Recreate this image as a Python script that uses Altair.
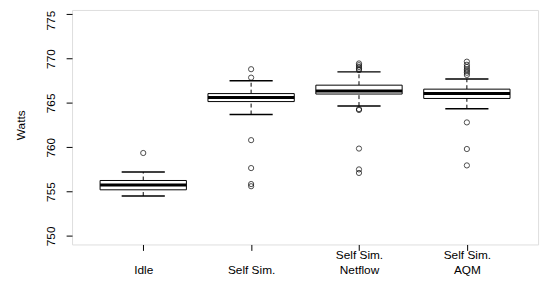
import json
import altair as alt
import pandas as pd

# ---- data ----
label_lines = [["", "Idle"], ["", "Self Sim."], ["Self Sim.", "Netflow"], ["Self Sim.", "AQM"]]
positions = [1, 2, 3, 4]
whisker_low = [754.5, 763.7, 764.65, 764.35]
q1 = [755.2, 765.15, 766.0, 765.5]
median = [755.75, 765.6, 766.35, 766.05]
q3 = [756.25, 766.05, 767.0, 766.55]
whisker_high = [757.2, 767.5, 768.5, 767.7]

outliers_idle = [759.35]
outliers_selfsim = [768.8, 767.85, 760.8, 757.65, 755.85, 755.6]
outliers_netflow = [769.45, 769.25, 769.05, 768.85, 768.7, 764.3, 764.2, 759.85, 757.5, 757.1]
outliers_aqm = [769.65, 769.3, 769.05, 768.8, 768.6, 768.4, 768.15, 762.8, 759.8, 757.95]

y_ticks = [750, 755, 760, 765, 770, 775]

box_half = 0.4
staple_half = 0.2

# ---- tables ----
stats = pd.DataFrame({
    "pos": positions,
    "lo": [p - box_half for p in positions],
    "hi": [p + box_half for p in positions],
    "slo": [p - staple_half for p in positions],
    "shi": [p + staple_half for p in positions],
    "wlow": whisker_low,
    "q1": q1,
    "med": median,
    "q3": q3,
    "whigh": whisker_high,
})

out_rows = []
for p, vals in zip(positions, [outliers_idle, outliers_selfsim, outliers_netflow, outliers_aqm]):
    for v in vals:
        out_rows.append({"pos": p, "val": v})
outs = pd.DataFrame(out_rows)

label_expr = " : ".join(
    f"datum.value == {p} ? {json.dumps(l)}" for p, l in zip(positions, label_lines)
) + " : ''"

FONT = "Liberation Sans"

xs = alt.Scale(domain=[0.34, 4.66], nice=False, zero=False)
ys = alt.Scale(domain=[749.033, 775.478], nice=False, zero=False)

x_axis = alt.Axis(
    values=positions, labelExpr=label_expr, tickSize=6, tickColor="black", tickWidth=1,
    labelPadding=8, labelBaseline="alphabetic", labelAlign="center", labelLineHeight=15,
    labelFontSize=12, labelFont=FONT, labelColor="black", domain=False, grid=False,
    labelFlush=False, labelOverlap=False, title="",
)
y_axis = alt.Axis(
    values=y_ticks, tickSize=6, tickColor="black", tickWidth=1,
    labelAngle=270, labelAlign="center", labelBaseline="alphabetic", labelPadding=12,
    labelOffset={"condition": {"test": f"datum.value == {max(y_ticks)}", "value": 6}, "value": 0},
    labelFontSize=12, labelFont=FONT, labelColor="black", domain=False, grid=False,
    labelFlush=False, labelOverlap=False,
    title="Watts", titleAngle=270, titleX=-48, titleY=116.5, titleAlign="center",
    titleBaseline="alphabetic", titleFont=FONT, titleFontSize=12, titleFontWeight="normal",
    titleColor="black",
)

base = alt.Chart(stats)

wh_hi = base.mark_rule(color="black", strokeWidth=1, strokeDash=[4, 3]).encode(
    x=alt.X("pos:Q", scale=xs, axis=x_axis),
    y=alt.Y("q3:Q", scale=ys, axis=y_axis),
    y2="whigh:Q",
)
wh_lo = base.mark_rule(color="black", strokeWidth=1, strokeDash=[4, 3]).encode(
    x=alt.X("pos:Q", scale=xs, axis=x_axis),
    y=alt.Y("wlow:Q", scale=ys, axis=y_axis),
    y2="q1:Q",
)
box = base.mark_rect(fill="white", stroke="black", strokeWidth=1).encode(
    x=alt.X("lo:Q", scale=xs, axis=x_axis),
    x2="hi:Q",
    y=alt.Y("q1:Q", scale=ys, axis=y_axis),
    y2="q3:Q",
)
med = base.mark_rule(color="black", strokeWidth=3).encode(
    x=alt.X("lo:Q", scale=xs, axis=x_axis),
    x2="hi:Q",
    y=alt.Y("med:Q", scale=ys, axis=y_axis),
)
st_hi = base.mark_rule(color="black", strokeWidth=1.5).encode(
    x=alt.X("slo:Q", scale=xs, axis=x_axis),
    x2="shi:Q",
    y=alt.Y("whigh:Q", scale=ys, axis=y_axis),
)
st_lo = base.mark_rule(color="black", strokeWidth=1.5).encode(
    x=alt.X("slo:Q", scale=xs, axis=x_axis),
    x2="shi:Q",
    y=alt.Y("wlow:Q", scale=ys, axis=y_axis),
)
pts = alt.Chart(outs).mark_point(shape="circle", filled=False, size=28, stroke="black", strokeWidth=1).encode(
    x=alt.X("pos:Q", scale=xs, axis=x_axis),
    y=alt.Y("val:Q", scale=ys, axis=y_axis),
)

chart = alt.layer(wh_hi, wh_lo, box, med, st_hi, st_lo, pts).properties(
    width=473,
    height=238,
    autosize=alt.AutoSizeParams(type="none"),
    padding={"left": 65, "top": 0, "right": 5, "bottom": 32},
).configure_view(stroke="black", strokeWidth=1).configure(background="white")

chart.save("out.html", embed_options={"renderer": "svg", "actions": False})
